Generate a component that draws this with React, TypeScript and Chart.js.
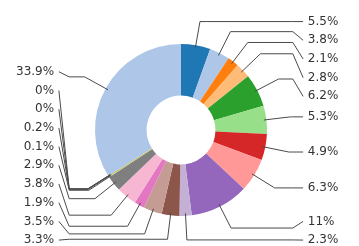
import React, { useEffect, useRef } from "react";
import { Chart, registerables } from "chart.js";

Chart.register(...registerables);

const categories = [
  "S1", "S2", "S3", "S4", "S5", "S6", "S7", "S8", "S9", "S10",
  "S11", "S12", "S13", "S14", "S15", "S16", "S17", "S18", "S19", "S20",
];
const values = [5.5, 3.8, 2.1, 2.8, 6.2, 5.3, 4.9, 6.3, 11, 2.3, 3.3, 3.5, 1.9, 3.8, 2.9, 0.1, 0.2, 0, 0, 33.9];
const colors = [
  "#1f77b4", "#aec7e8", "#ff7f0e", "#ffbb78", "#2ca02c", "#98df8a", "#d62728", "#ff9896",
  "#9467bd", "#c5b0d5", "#8c564b", "#c49c94", "#e377c2", "#f7b6d2", "#7f7f7f", "#c7c7c7",
  "#bcbd22", "#dbdb8d", "#17becf", "#aec7e8",
];

const fmt = (v: number) => `${Number(v.toFixed(1))}%`;

const leaderPlugin = {
  id: "leaders",
  afterDatasetsDraw(chart: any) {
    const ctx = chart.ctx as CanvasRenderingContext2D;
    const meta = chart.getDatasetMeta(0);
    const items = meta.data.map((arc: any, i: number) => {
      const p = arc.getProps(["x", "y", "startAngle", "endAngle", "outerRadius"], true);
      const mid = (p.startAngle + p.endAngle) / 2;
      const cos = Math.cos(mid);
      const sin = Math.sin(mid);
      const R = p.outerRadius;
      const Rk = R * 1.28;
      return {
        i, cx: p.x, cy: p.y, R, Rk, cos, sin,
        right: cos >= 0,
        natY: p.y + Rk * sin,
        labelY: 0,
      };
    });
    if (!items.length) return;
    const gap = 18.7;
    const cy = items[0].cy;
    const Rk = items[0].Rk;
    const minY = cy - Rk;
    const maxY = cy + Rk;
    const layout = (arr: any[]) => {
      for (let k = 0; k < arr.length; k++) {
        const prev = k > 0 ? arr[k - 1].labelY + gap : minY;
        arr[k].labelY = Math.max(arr[k].natY, prev);
      }
      for (let k = arr.length - 1; k >= 0; k--) {
        const next = k < arr.length - 1 ? arr[k + 1].labelY - gap : maxY;
        arr[k].labelY = Math.min(arr[k].labelY, next);
      }
    };
    const rightItems = items.filter((d: any) => d.right);
    const leftItems = items.filter((d: any) => !d.right).reverse();
    layout(rightItems);
    layout(leftItems);

    ctx.save();
    ctx.strokeStyle = "#4a4a4a";
    ctx.lineWidth = 1;
    ctx.fillStyle = "#333";
    ctx.font = '12px "DejaVu Sans"';
    ctx.textBaseline = "middle";
    for (const d of items) {
      const s = d.right ? 1 : -1;
      const ax = d.cx + d.R * 0.97 * d.cos;
      const ay = d.cy + d.R * 0.97 * d.sin;
      const e1x = d.cx + d.Rk * d.cos;
      const e2x = d.cx + s * d.R * 1.3;
      const endX = d.cx + s * d.R * 1.42;
      ctx.beginPath();
      ctx.moveTo(ax, ay);
      ctx.lineTo(e1x, d.natY);
      ctx.lineTo(e2x, d.natY);
      ctx.lineTo(endX, d.labelY);
      ctx.stroke();
      ctx.textAlign = d.right ? "left" : "right";
      ctx.fillText(fmt(values[d.i]), d.cx + s * d.R * 1.475, d.labelY);
    }
    ctx.restore();
  },
};

export default function App() {
  const ref = useRef<HTMLCanvasElement>(null);
  useEffect(() => {
    document.body.style.margin = "0";
    const chart = new Chart(ref.current!, {
      type: "doughnut",
      data: {
        labels: categories,
        datasets: [
          {
            data: values,
            backgroundColor: colors,
            borderWidth: 0,
          },
        ],
      },
      options: {
        responsive: false,
        animation: false,
        cutout: "40%",
        layout: { padding: { left: 95, right: 92, top: 44, bottom: 30 } },
        plugins: { legend: { display: false }, tooltip: { enabled: false } },
      },
      plugins: [leaderPlugin],
    });
    return () => chart.destroy();
  }, []);
  return (
    <div style={{ position: "absolute", left: 0, top: 0, width: 359, height: 246, background: "#fff" }}>
      <canvas ref={ref} width={359} height={246} style={{ display: "block" }} />
    </div>
  );
}
